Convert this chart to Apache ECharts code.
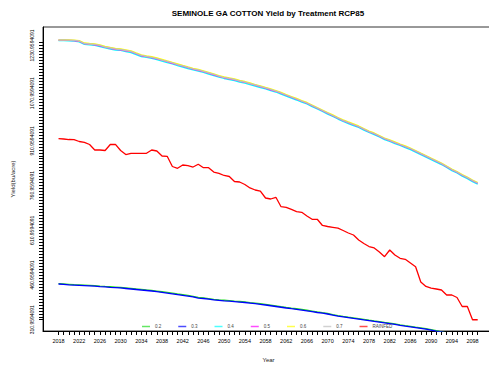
<!DOCTYPE html>
<html><head><meta charset="utf-8">
<script src="https://cdn.jsdelivr.net/npm/echarts@6/dist/echarts.min.js"></script>
<style>html,body{margin:0;padding:0;background:#fff}#c{width:489px;height:365px}</style>
</head><body><div id="c"></div>
<script>
const years = [2018,2019,2020,2021,2022,2023,2024,2025,2026,2027,2028,2029,2030,2031,2032,2033,2034,2035,2036,2037,2038,2039,2040,2041,2042,2043,2044,2045,2046,2047,2048,2049,2050,2051,2052,2053,2054,2055,2056,2057,2058,2059,2060,2061,2062,2063,2064,2065,2066,2067,2068,2069,2070,2071,2072,2073,2074,2075,2076,2077,2078,2079,2080,2081,2082,2083,2084,2085,2086,2087,2088,2089,2090,2091,2092,2093,2094,2095,2096,2097,2098,2099];

const t02 = [431.8,431.0,429.9,428.7,428.2,427.3,426.3,425.3,423.9,422.6,
421.6,420.4,419.1,417.7,416.0,414.2,412.7,410.9,409.3,407.1,
404.9,402.5,399.9,397.3,394.9,392.4,389.5,385.7,384.0,381.8,
379.6,377.9,376.4,374.9,373.4,372.2,370.6,368.6,366.9,364.7,
362.2,359.7,357.2,354.6,352.2,349.9,347.8,345.4,342.8,340.0,
337.2,334.5,331.9,328.3,324.8,322.1,319.5,317.1,314.6,312.1,
309.5,307.0,304.6,302.0,299.5,296.8,294.1,291.5,289.0,286.3,
283.9,280.9,277.9,274.6,270.6,267.1,263.8,260.4,256.8,253.4,
249.9,246.4];

const t03 = [430.9,429.6,428.1,427.3,426.5,425.7,424.8,423.5,422.1,420.9,
419.7,418.6,417.5,415.8,414.1,412.4,410.7,409.1,407.3,405.2,
403.0,400.5,398.0,395.5,393.0,390.4,387.9,383.7,382.2,380.0,
377.8,376.2,374.4,373.1,371.8,370.3,368.8,367.0,365.1,362.8,
360.4,357.9,355.4,352.9,350.4,348.1,346.0,343.5,340.9,338.1,
335.2,332.8,330.2,326.5,322.8,320.3,317.8,315.2,312.8,310.2,
307.8,305.2,302.7,300.2,297.7,295.1,292.3,289.7,287.3,284.7,
282.2,279.4,276.5,273.1,269.9,266.5,263.1,259.7,256.2,252.7,
249.3,245.8];

const t04 = [1247.4,1247.1,1246.3,1245.2,1242.7,1234.6,1233.0,1231.0,1227.3,1222.5,
1218.9,1215.5,1214.1,1210.6,1207.2,1200.4,1193.6,1190.6,1187.9,1183.4,
1178.6,1173.4,1168.9,1163.4,1158.5,1153.3,1148.8,1145.0,1140.3,1134.9,
1130.1,1124.9,1120.1,1116.5,1113.3,1108.1,1104.8,1099.8,1094.8,1089.8,
1085.0,1079.5,1074.8,1068.0,1061.3,1054.4,1047.9,1040.9,1034.5,1025.9,
1017.8,1009.3,1000.7,992.7,984.1,975.8,969.0,962.1,955.8,947.0,
938.9,931.9,923.8,915.2,908.8,901.7,895.4,888.3,881.8,873.3,
865.0,856.5,848.1,839.8,831.5,821.4,811.2,803.1,792.7,784.4,
774.3,765.9];

const t05 = [1248.5,1248.4,1247.9,1246.8,1245.0,1236.7,1235.1,1233.3,1229.9,1225.0,
1221.5,1218.2,1216.5,1213.1,1209.9,1203.1,1196.4,1193.1,1190.4,1186.2,
1181.3,1176.3,1171.2,1166.2,1161.2,1156.2,1151.2,1147.7,1142.8,1137.8,
1132.6,1127.6,1122.6,1119.2,1115.9,1110.9,1107.5,1102.5,1097.5,1092.5,
1087.5,1082.3,1077.3,1070.7,1063.9,1057.2,1050.5,1043.8,1037.1,1028.8,
1020.4,1012.0,1003.6,995.2,986.8,978.5,971.7,965.0,958.3,949.9,
941.5,934.8,926.4,918.0,911.4,904.6,898.0,891.2,884.5,876.1,
867.7,859.3,850.9,842.6,834.2,824.1,814.0,805.6,795.6,787.2,
777.2,768.8];

const t06 = [1249.8,1250.3,1249.9,1249.1,1247.1,1239.1,1237.5,1236.2,1232.7,1227.9,
1224.3,1221.1,1219.4,1216.3,1212.8,1205.7,1199.4,1195.8,1193.4,1188.9,
1184.3,1178.8,1173.9,1169.2,1163.8,1158.9,1154.3,1150.3,1145.5,1140.5,
1135.4,1130.1,1125.5,1121.8,1118.6,1113.4,1110.0,1105.1,1099.9,1095.2,
1089.9,1085.1,1079.7,1073.2,1066.4,1059.7,1053.1,1046.2,1039.7,1031.3,
1022.8,1014.5,1006.1,997.8,989.2,981.1,974.3,967.6,960.9,952.2,
943.9,937.4,928.9,920.4,913.9,907.2,900.4,893.8,886.9,878.5,
870.1,861.8,853.3,845.1,836.5,826.6,816.4,808.1,798.0,789.5,
779.7,771.2];

const t07 = [1249.2,1249.2,1248.6,1247.6,1245.8,1237.5,1235.8,1234.1,1230.8,1225.7,
1222.4,1219.0,1217.3,1214.0,1210.7,1203.9,1197.3,1193.9,1191.2,1187.1,
1182.1,1177.1,1172.1,1167.0,1162.0,1157.0,1152.0,1148.6,1143.6,1138.6,
1133.5,1128.4,1123.4,1120.1,1116.7,1111.7,1108.3,1103.3,1098.3,1093.3,
1088.3,1083.2,1078.1,1071.5,1064.7,1058.0,1051.3,1044.6,1037.9,1029.6,
1021.2,1012.8,1004.4,996.0,987.6,979.3,972.5,965.8,959.1,950.7,
942.3,935.6,927.2,918.8,912.2,905.4,898.7,892.0,885.3,876.9,
868.5,860.1,851.7,843.4,835.0,824.9,814.8,806.4,796.4,788.0,
778.0,769.6];

const rainfed = [918.2,917.2,915.4,914.8,908.8,906.1,898.7,880.3,880.3,878.6,
898.7,899.4,878.6,865.1,869.2,869.2,869.2,869.2,880.3,876.9,
860.1,859.1,824.9,818.9,830.0,827.7,823.2,832.4,820.9,820.9,
806.4,802.1,794.8,791.4,774.6,772.9,764.5,752.9,746.1,742.7,
719.3,715.9,721.6,690.1,688.1,680.8,673.4,671.3,658.9,647.9,
647.9,627.1,623.7,621.0,618.0,610.3,601.9,595.2,578.4,566.6,
556.6,551.6,538.2,522.4,544.9,528.1,517.0,513.7,501.3,488.9,
437.6,422.5,416.8,414.1,410.7,393.9,393.9,385.6,355.4,355.4,
310.9594091,310.9594091];

const seriesNames = ['0.2','0.3','0.4','0.5','0.6','0.7','RAINFED'];
const seriesData = [t02, t03, t04, t05, t06, t07, rainfed];
const seriesColors = ['#22dd22','#0000ff','#00ffff','#ff00ff','#ffff00','#bebebe','#ff0000'];

const xLabelYears = [2018,2022,2026,2030,2034,2038,2042,2046,2050,2054,2058,2062,2066,2070,2074,2078,2082,2086,2090,2094,2098];
const yTickLabels = ['310.9594091','460.9594091','610.9594091','760.9594091','910.9594091','1070.9594091','1230.9594091'];
const yTickFirst = 310.9594091, yTickStep = 10, yTickCount = 94;
const yTickValues = [];
for (let i = 0; i < yTickCount; i++) yTickValues.push(+(yTickFirst + i * yTickStep).toFixed(7));

const FONT = 'Liberation Sans, Arial, sans-serif';
const chart = echarts.init(document.getElementById('c'), null, {renderer: 'svg'});

chart.setOption({
  animation: false,
  backgroundColor: '#ffffff',
  title: {
    text: 'SEMINOLE GA COTTON Yield by Treatment RCP85',
    left: 268, top: 9, textAlign: 'center', padding: 0,
    textStyle: {fontFamily: FONT, fontSize: 8, fontWeight: 'bold', color: '#000'}
  },
  grid: {left: 43, top: 27, right: -5, bottom: 34, outerBoundsMode: 'none', containLabel: false,
    show: true, borderColor: '#333', borderWidth: 1, backgroundColor: 'transparent'},
  legend: {
    data: seriesNames, left: 142, top: 324, padding: 0, icon: 'rect',
    itemWidth: 8, itemHeight: 1.5, itemGap: 17,
    itemStyle: {opacity: 0.7},
    textStyle: {fontFamily: FONT, fontSize: 4.5, color: '#444'}
  },
  xAxis: {
    type: 'value', min: 2015, max: 2102.15,
    name: 'Year', nameLocation: 'middle', nameGap: 26,
    nameTextStyle: {fontFamily: FONT, fontSize: 6, color: '#222'},
    axisLine: {show: true, lineStyle: {color: '#000', width: 1}},
    axisTick: {show: true, inside: false, length: 4, customValues: years, lineStyle: {color: '#000', width: 1}},
    axisLabel: {customValues: xLabelYears, margin: 7, fontFamily: FONT, fontSize: 5.5, color: '#000', formatter: v => String(v)},
    splitLine: {show: false}
  },
  yAxis: {
    type: 'value', min: 273.2, max: 1292.8,
    name: 'Yield(bu/acre)', nameLocation: 'middle', nameGap: 27, nameRotate: 90,
    nameTextStyle: {fontFamily: FONT, fontSize: 6, color: '#222'},
    axisLine: {show: true, lineStyle: {color: '#000', width: 1}},
    axisTick: {show: true, inside: false, length: 4, customValues: yTickValues, lineStyle: {color: '#000', width: 1}},
    axisLabel: {customValues: yTickLabels.map(Number), rotate: 90, margin: 9, fontFamily: FONT, fontSize: 5, color: '#000',
      formatter: v => { const i = yTickLabels.map(Number).findIndex(x => Math.abs(x - v) < 0.01); return i >= 0 ? yTickLabels[i] : ''; }},
    splitLine: {show: false}
  },
  series: seriesNames.map((n, i) => ({
    name: n, type: 'line', symbol: 'none', showSymbol: false, clip: true,
    data: years.map((y, j) => [y, seriesData[i][j]]),
    lineStyle: {color: seriesColors[i], width: 1.3},
    itemStyle: {color: seriesColors[i]},
    z: 2 + i
  }))
});
</script></body></html>
